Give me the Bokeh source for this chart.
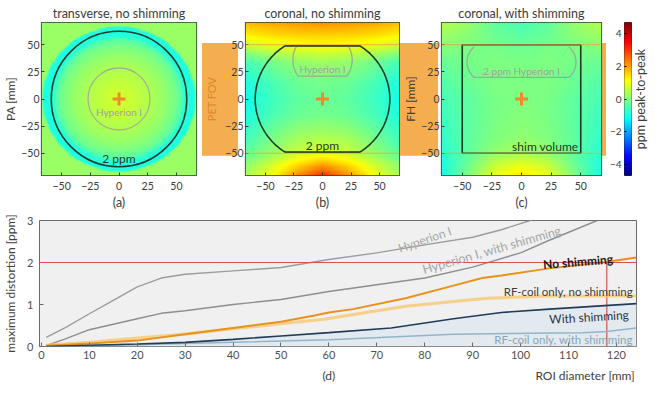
import numpy as np
from bokeh.plotting import figure
from bokeh.layouts import column, row
from bokeh.models import (Range1d, LinearColorMapper, FixedTicker, LinearAxis,
                          Span, Label)
from bokeh.embed import file_html
from bokeh.resources import INLINE

# ---------------------------------------------------------------- data
titles = ["transverse, no shimming", "coronal, no shimming", "coronal, with shimming"]
tags = ["(a)", "(b)", "(c)", "(d)"]
map_ticks = [-50, -25, 0, 25, 50]
cbar_ticks = [-4, -2, 0, 2, 4]
cbar_low, cbar_high = -4.7, 4.7
cbar_label = "ppm peak-to-peak"
map_x_half, map_y_half = 67.5, 70.5

# (a) transverse field: radial profile [mm] -> ppm
a_radius = [0, 10, 20, 30, 40, 50, 55, 58, 62, 66, 68, 100]
a_ppm = [0.75, 0.7, 0.55, 0.4, 0.2, -0.1, -0.4, -0.8, -0.9, -0.9, 0.25, 0.25]

# (b), (c) coronal fields sampled on a coarse grid (rows bottom -> top)
grid_x = [-67.5, -45, -22, 0, 22, 45, 67.5]
grid_y = [-70.5, -60, -50, -35, -15, 0, 15, 35, 50, 60, 70.5]
b_ppm = [
    [0.4, 1.1, 2.2, 3.1, 2.2, 1.1, 0.4],
    [0.1, 0.7, 1.4, 1.9, 1.4, 0.7, 0.1],
    [-0.3, 0.2, 0.7, 0.9, 0.7, 0.2, -0.3],
    [-0.6, -0.1, 0.3, 0.4, 0.3, -0.1, -0.6],
    [-0.9, -0.5, -0.2, -0.1, -0.2, -0.5, -0.9],
    [-1.0, -0.6, -0.3, -0.2, -0.3, -0.6, -1.0],
    [-0.9, -0.5, -0.2, -0.1, -0.2, -0.5, -0.9],
    [-0.5, -0.1, 0.2, 0.3, 0.2, -0.1, -0.5],
    [0.7, 1.0, 1.1, 1.2, 1.1, 1.0, 0.7],
    [1.3, 1.5, 1.6, 1.6, 1.6, 1.5, 1.3],
    [1.8, 2.0, 2.1, 2.2, 2.1, 2.0, 1.8],
]
c_ppm = [
    [-1.0, 0.0, 1.0, 1.4, 1.0, 0.0, -1.0],
    [-0.9, -0.2, 0.6, 0.9, 0.6, -0.2, -0.9],
    [-0.8, -0.3, 0.2, 0.4, 0.2, -0.3, -0.8],
    [-0.7, -0.3, 0.0, 0.15, 0.0, -0.3, -0.7],
    [-0.6, -0.3, -0.05, 0.05, -0.05, -0.3, -0.6],
    [-0.5, -0.3, -0.05, 0.0, -0.05, -0.3, -0.5],
    [-0.4, -0.2, 0.0, 0.0, 0.0, -0.2, -0.4],
    [-0.2, -0.1, 0.0, -0.05, 0.0, -0.1, -0.2],
    [0.1, 0.0, -0.1, -0.2, -0.1, 0.0, 0.1],
    [0.3, 0.1, -0.2, -0.35, -0.2, 0.1, 0.3],
    [0.5, 0.2, -0.3, -0.5, -0.3, 0.2, 0.5],
]

contour_radius = 59      # 2 ppm contour, ROI diameter 118 mm
hyperion_radius = 27     # Hyperion I 2 ppm contour
pet_fov_half = 50
shim_half = 50

# (d) maximum distortion vs ROI diameter
d_xticks = list(range(0, 130, 10))
d_yticks = [0, 1, 2, 3]
limit_ppm = 2.0
limit_roi = 118

hyp_x = [1, 5, 10, 15, 20, 25, 30, 40, 50, 60, 70, 80, 90, 96, 102, 106]
hyp_y = [0.22, 0.45, 0.78, 1.1, 1.42, 1.63, 1.72, 1.8, 1.88, 2.07, 2.23, 2.42, 2.6, 2.78, 3.0, 3.15]
hyps_x = [1, 5, 10, 15, 20, 25, 30, 40, 50, 60, 70, 80, 90, 100, 106, 116]
hyps_y = [0.02, 0.18, 0.4, 0.53, 0.66, 0.79, 0.85, 1.0, 1.12, 1.31, 1.47, 1.63, 1.89, 2.23, 2.53, 3.0]
noshim_x = [1, 10, 20, 30, 40, 50, 57, 60, 65, 76, 86, 92, 96, 106, 117, 124.2]
noshim_y = [0.02, 0.07, 0.14, 0.29, 0.44, 0.59, 0.74, 0.81, 0.89, 1.15, 1.45, 1.63, 1.69, 1.86, 2.0, 2.12]
rfno_x = [1, 10, 20, 30, 40, 50, 59, 76, 93, 106, 124.2]
rfno_y = [0.03, 0.1, 0.2, 0.3, 0.42, 0.54, 0.65, 0.96, 1.15, 1.2, 1.2]
shim_x = [1, 10, 20, 30, 40, 50, 60, 73, 86, 96, 106, 124.2]
shim_y = [0.0, 0.03, 0.06, 0.1, 0.17, 0.25, 0.33, 0.44, 0.66, 0.81, 0.89, 1.02]
rfshim_x = [1, 20, 40, 60, 86, 113, 118, 124.2]
rfshim_y = [0.0, 0.04, 0.1, 0.16, 0.29, 0.33, 0.36, 0.44]

# ---------------------------------------------------------------- styles
FONT = "Lato"
TXT = "#3c3c3c"
OUTLINE = "#2c3d33"
CONTOUR = "#1d3a2b"
HYP_GRAY = "#a0a0a0"
BAND = "#f5ae4f"
TOP_H = 212
BT, BB = 20, 33
FRAME_H = TOP_H - BT - BB


def jet_palette(n=256):
    t = np.linspace(0, 1, n)
    r = np.clip(np.minimum(4 * t - 1.5, -4 * t + 4.5), 0, 1)
    g = np.clip(np.minimum(4 * t - 0.5, -4 * t + 3.5), 0, 1)
    b = np.clip(np.minimum(4 * t + 0.5, -4 * t + 2.5), 0, 1)
    return ["#%02x%02x%02x" % (int(rr * 255), int(gg * 255), int(bb * 255)) for rr, gg, bb in zip(r, g, b)]


JET = jet_palette()
mapper = LinearColorMapper(palette=JET, low=cbar_low, high=cbar_high)

xs = np.linspace(-map_x_half, map_x_half, 136)
ys = np.linspace(-map_y_half, map_y_half, 142)
XX, YY = np.meshgrid(xs, ys)


def upsample(grid):
    g = np.array(grid, dtype=float)
    tmp = np.array([np.interp(xs, grid_x, r) for r in g])
    return np.array([np.interp(ys, grid_y, tmp[:, j]) for j in range(len(xs))]).T


a_img = np.interp(np.hypot(XX, YY), a_radius, a_ppm)
b_img = upsample(b_ppm)
c_img = upsample(c_ppm)


def band_styles(border_left, frame_w, right_band):
    """CSS background strips for the PET FOV band outside the frame."""
    px_mm = FRAME_H / (2 * map_y_half)
    top = BT + (map_y_half - pet_fov_half) * px_mm
    h = 2 * pet_fov_half * px_mm
    grad = "linear-gradient(%s,%s)" % (BAND, BAND)
    return {
        "background-image": grad + "," + grad,
        "background-repeat": "no-repeat",
        "background-size": "%.1fpx %.1fpx, %.1fpx %.1fpx" % (border_left, h, right_band, h),
        "background-position": "0px %.1fpx, %.1fpx %.1fpx" % (top, border_left + frame_w, top),
    }


def map_fig(title, tag, img, width, bl, br, ylabel=None):
    p = figure(width=width, height=TOP_H,
               x_range=Range1d(-map_x_half, map_x_half), y_range=Range1d(-map_y_half, map_y_half),
               output_backend="svg", toolbar_location=None,
               min_border_left=bl, min_border_right=br, min_border_top=BT, min_border_bottom=BB)
    p.title.text = title
    p.title.align = "center"
    p.title.text_font = FONT
    p.title.text_font_size = "12.5px"
    p.title.text_font_style = "normal"
    p.title.text_color = TXT
    p.title.standoff = 4
    p.grid.visible = False
    p.outline_line_color = OUTLINE
    p.outline_line_width = 1.2
    p.image(image=[img], x=-map_x_half, y=-map_y_half, dw=2 * map_x_half, dh=2 * map_y_half,
            color_mapper=mapper)
    for ax in (p.xaxis[0], p.yaxis[0]):
        ax.ticker = FixedTicker(ticks=map_ticks)
        ax.axis_line_color = None
        ax.major_tick_in = 3
        ax.major_tick_out = 0
        ax.minor_tick_line_color = None
        ax.major_tick_line_color = OUTLINE
        ax.major_label_text_font = FONT
        ax.major_label_text_font_size = "10.5px"
        ax.major_label_text_color = TXT
        ax.axis_label_text_font = FONT
        ax.axis_label_text_font_style = "normal"
        ax.axis_label_text_color = TXT
    p.xaxis.major_label_standoff = 6
    p.xaxis.axis_label = tag
    p.xaxis.axis_label_text_font_size = "12.5px"
    p.xaxis.axis_label_standoff = 2
    p.yaxis.major_label_standoff = 2
    if ylabel:
        p.yaxis.axis_label = ylabel
        p.yaxis.axis_label_text_font_size = "12px"
        p.yaxis.axis_label_standoff = 0
    p.scatter([0], [0], marker="cross", size=13, line_width=3, color="#f08a2c")
    return p


def text(p, s, x, y, color, size="10.5px", align="center", angle=0.0, bold=False, baseline="middle"):
    p.add_layout(Label(x=x, y=y, text=s, text_font=FONT, text_font_size=size, text_color=color,
                       text_align=align, text_baseline=baseline, angle=angle,
                       text_font_style="bold" if bold else "normal"))


def fov_lines(p):
    for yv in (-pet_fov_half, pet_fov_half):
        p.add_layout(Span(location=yv, dimension="width", line_color="#eea040",
                          line_width=1, line_alpha=0.8, level="overlay"))


# ---------------- (a)
pa = map_fig(titles[0], tags[0], a_img, 202, 33, 6, "PA [mm]")
pa.circle(x=[0], y=[0], radius=contour_radius, radius_dimension="x", fill_color=None,
          line_color=CONTOUR, line_width=1.6)
pa.circle(x=[0], y=[0], radius=hyperion_radius, radius_dimension="x", fill_color=None,
          line_color=HYP_GRAY, line_width=1.3, line_alpha=0.8)
text(pa, "Hyperion I", 0, -12, HYP_GRAY, "10px")
text(pa, "2 ppm", 0, -55, CONTOUR, "12px")

# ---------------- (b)
pb = map_fig(titles[1], tags[1], b_img, 198, 36, 1, "PET FOV")
pb.yaxis.axis_label_text_color = "#d9862a"
pb.yaxis.axis_label_text_font_size = "11px"
pb.yaxis.axis_label_standoff = 4
pb.border_fill_alpha = 0
pb.styles = band_styles(36, 161, 2)
fov_lines(pb)
th = np.arcsin((pet_fov_half - 1) / contour_radius)
ang = np.linspace(th, -th, 60)
ox = np.concatenate([contour_radius * np.cos(ang), -contour_radius * np.cos(ang[::-1])])
oy = np.concatenate([contour_radius * np.sin(ang), contour_radius * np.sin(ang[::-1])])
pb.patch(x=list(ox), y=list(oy), fill_color=None, line_color=CONTOUR, line_width=1.6)
hc_y, h_top, h_bot = 36, 48, 21
a1 = np.arcsin((h_top - hc_y) / 26.0)
a2 = -np.arcsin((hc_y - h_bot) / 26.0)
ang = np.linspace(a1, a2, 40)
hx = np.concatenate([26 * np.cos(ang), -26 * np.cos(ang[::-1])])
hy = np.concatenate([hc_y + 26 * np.sin(ang), hc_y + 26 * np.sin(ang[::-1])])
pb.line(x=list(hx), y=list(hy), line_color=HYP_GRAY, line_width=1.3, line_alpha=0.9)
text(pb, "Hyperion I", 0, 28, HYP_GRAY, "10px")
text(pb, "2 ppm", 0, -43, CONTOUR, "12px")

# ---------------- (c)
pc = map_fig(titles[2], tags[2], c_img, 206, 38, 5, "FH [mm]")
pc.border_fill_alpha = 0
pc.styles = band_styles(38, 163, 5)
fov_lines(pc)
pc.rect(x=[0], y=[0], width=2 * shim_half, height=2 * shim_half, fill_color=None,
        line_color=CONTOUR, line_width=1.6)
R, cy = 19.33, 34
ang = np.linspace(np.arcsin(14 / R), -np.arcsin(14 / R), 30)
rx = 26.67 + R * np.cos(ang)
ry = cy + R * np.sin(ang)
sx = np.concatenate([rx, -rx[::-1]])
sy = np.concatenate([ry, ry[::-1]])
pc.line(x=list(sx), y=list(sy), line_color=HYP_GRAY, line_width=1.3, line_alpha=0.9)
text(pc, "2 ppm Hyperion I", 0, 26, HYP_GRAY, "10px")
text(pc, "shim volume", 48, -44, CONTOUR, "12px", align="right")

# ---------------- colour bar (bar with tick labels) + its label
pcb = figure(width=26, height=TOP_H, x_range=Range1d(0, 1), y_range=Range1d(cbar_low, cbar_high),
             output_backend="svg", toolbar_location=None,
             min_border_left=14, min_border_right=1, min_border_top=22, min_border_bottom=34)
edges = np.linspace(cbar_low, cbar_high, len(JET) + 1)
pcb.quad(left=0, right=1, bottom=edges[:-1], top=edges[1:], fill_color=JET, line_color=JET,
         line_width=0.6)
pcb.grid.visible = False
pcb.xaxis.visible = False
pcb.outline_line_color = "#333333"
pcb.border_fill_alpha = 0
yax = pcb.yaxis[0]
yax.ticker = FixedTicker(ticks=cbar_ticks)
yax.axis_line_color = None
yax.major_tick_in = 2
yax.major_tick_out = 0
yax.minor_tick_line_color = None
yax.major_label_standoff = 3
yax.major_label_text_font = FONT
yax.major_label_text_font_size = "10px"
yax.major_label_text_color = TXT

plab = figure(width=15, height=TOP_H, x_range=Range1d(0, 1), y_range=Range1d(cbar_low, cbar_high),
              output_backend="svg", toolbar_location=None,
              min_border_left=14, min_border_right=0, min_border_top=22, min_border_bottom=34)
plab.xaxis.visible = False
plab.grid.visible = False
plab.outline_line_color = None
plab.background_fill_alpha = 0
plab.border_fill_alpha = 0
lax = plab.yaxis[0]
lax.ticker = FixedTicker(ticks=[])
lax.axis_line_color = None
lax.major_tick_line_color = None
lax.minor_tick_line_color = None
lax.axis_label = cbar_label
lax.axis_label_standoff = 0
lax.axis_label_text_font = FONT
lax.axis_label_text_font_size = "12.5px"
lax.axis_label_text_font_style = "normal"
lax.axis_label_text_color = TXT

# ---------------- (d)
pd_ = figure(width=647, height=173, x_range=Range1d(-0.4, 124.2), y_range=Range1d(0, 3),
             output_backend="svg", toolbar_location=None,
             min_border_left=32, min_border_right=11, min_border_top=8, min_border_bottom=32)
pd_.background_fill_color = "#f0f0f0"
pd_.grid.visible = False
pd_.outline_line_color = "#6a6a6a"
for ax in (pd_.xaxis[0], pd_.yaxis[0]):
    ax.axis_line_color = None
    ax.major_tick_in = 4
    ax.major_tick_out = 0
    ax.minor_tick_line_color = None
    ax.major_tick_line_color = "#6a6a6a"
    ax.major_label_text_font = FONT
    ax.major_label_text_font_size = "11px"
    ax.major_label_text_color = "#505050"
    ax.axis_label_text_font = FONT
    ax.axis_label_text_font_style = "normal"
    ax.axis_label_text_color = "#404040"
pd_.xaxis.ticker = FixedTicker(ticks=d_xticks)
pd_.yaxis.ticker = FixedTicker(ticks=d_yticks)
pd_.xaxis.major_label_standoff = 4
pd_.yaxis.major_label_standoff = 6
pd_.yaxis.axis_label = "maximum distortion [ppm]"
pd_.yaxis.axis_label_text_font_size = "12px"
pd_.yaxis.axis_label_standoff = 6
# second row under the tick labels: panel tag and axis title
tag_x, title_x = 60, 113.5
cap = LinearAxis(ticker=FixedTicker(ticks=[tag_x, title_x]),
                 major_label_overrides={tag_x: tags[3], title_x: "ROI diameter [mm]"},
                 axis_line_color=None, major_tick_line_color=None, minor_tick_line_color=None,
                 major_label_standoff=0, major_label_text_font=FONT,
                 major_label_text_font_size="12px", major_label_text_color="#404040")
pd_.add_layout(cap, "below")

pd_.varea(x=shim_x, y1=[0] * len(shim_x), y2=shim_y, fill_color="#e2eaf0", fill_alpha=1.0)
pd_.add_layout(Span(location=limit_ppm, dimension="width", line_color="#e0504a", line_width=1.2))
pd_.segment(x0=[limit_roi], y0=[0], x1=[limit_roi], y1=[limit_ppm], line_color="#e0504a", line_width=1.2)
pd_.line(hyp_x, hyp_y, line_color="#9c9c9c", line_width=1.4)
pd_.line(hyps_x, hyps_y, line_color="#8e8e8e", line_width=1.4)
pd_.line(rfno_x, rfno_y, line_color="#f7c86e", line_width=3, line_alpha=0.8)
pd_.line(noshim_x, noshim_y, line_color="#e8921e", line_width=2)
pd_.line(rfshim_x, rfshim_y, line_color="#92b4c6", line_width=1.5)
pd_.line(shim_x, shim_y, line_color="#203c58", line_width=1.7)

text(pd_, "Hyperion I", 80, 2.55, "#a6a6a6", "12px", angle=0.33)
text(pd_, "Hyperion I, with shimming", 94, 2.3, "#a6a6a6", "12.5px", angle=0.28)
text(pd_, "No shimming", 112, 2.02, "#1a1a1a", "12px", angle=0.08, bold=True)
text(pd_, "RF-coil only, no shimming", 123.4, 1.32, "#404040", "11.5px", align="right")
text(pd_, "With shimming", 122.6, 0.76, "#2a3440", "12px", align="right", angle=0.06)
text(pd_, "RF-coil only, with shimming", 123.4, 0.16, "#86a6b6", "11.5px", align="right")

layout = column(row(pa, pb, pc, pcb, plab), pd_)
open("out.html", "w").write(file_html(layout, INLINE))
